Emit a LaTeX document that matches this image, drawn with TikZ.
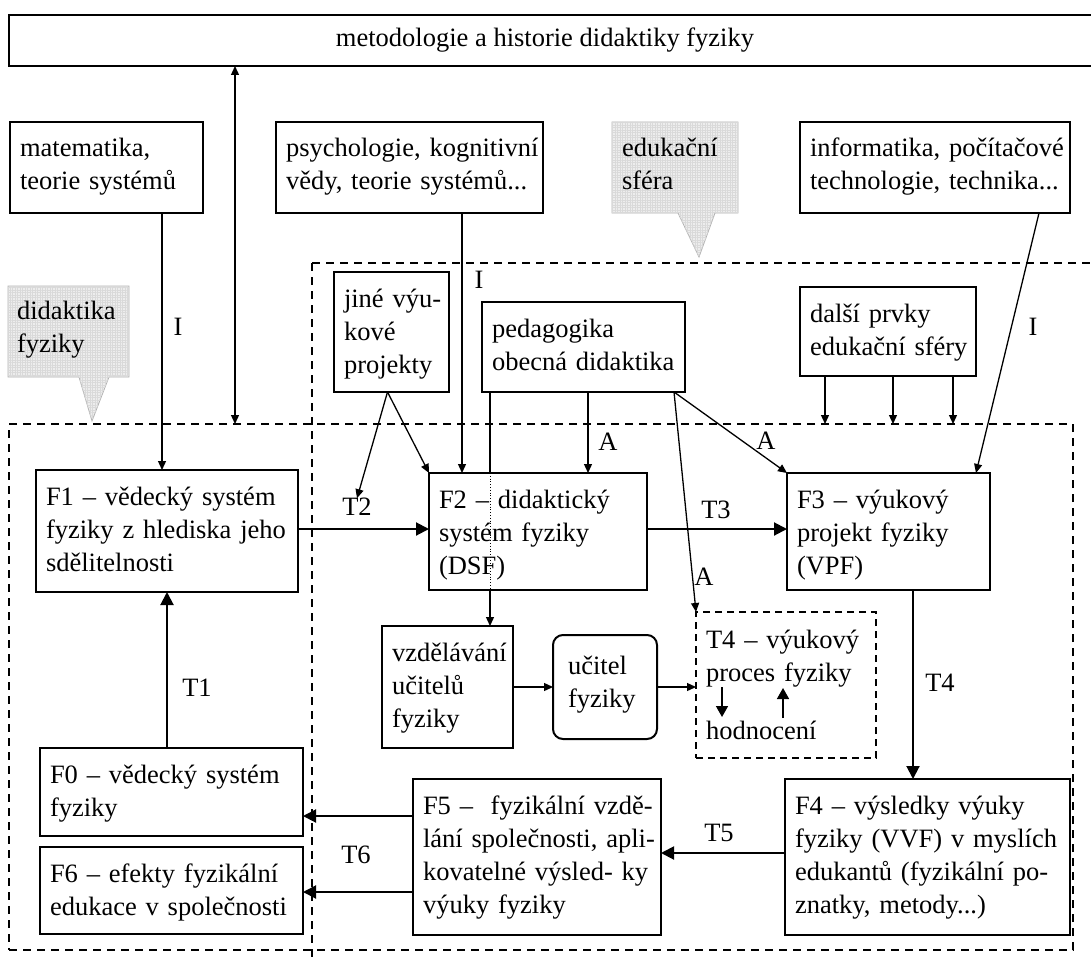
\documentclass[tikz,border=0pt]{standalone}
\usepackage{fontspec}
\setmainfont{Liberation Serif}
\usetikzlibrary{arrows.meta,patterns.meta,calc}

% framed box with top-left aligned text: [style]{name}{x1}{y1}{x2}{y2}{text}
\newcommand\fbx[7][frame]{%
  \node[#1, anchor=north west, minimum width={#5-#3}, minimum height={#6-#4}] (#2) at (#3,#4) {};
  \node[txt] (#2-t) at (#3+10,#4+35) {#7};}

\begin{document}
\begin{tikzpicture}[x=1pt,y=-1pt,
  every node/.style={font=\fontsize{26.5}{33}\selectfont, inner sep=0pt, outer sep=0pt},
  frame/.style={draw, line width=2pt, rectangle},
  txt/.style={text width=400pt, align=left, anchor=base west},
  lab/.style={anchor=center},
  region/.style={draw, line width=2pt, dash pattern=on 8pt off 6pt},
  thinarr/.style={line width=1.3pt, -{Triangle[length=9pt,width=8pt]}},
  thickarr/.style={line width=2pt, -{Triangle[length=13pt,width=13pt]}},
  midarr/.style={line width=1.6pt, -{Triangle[length=11pt,width=12pt]}},
  callout/.style={draw=gray!60, line width=0.8pt, fill=gray!14,
    postaction={pattern={Hatch[angle=0,distance=2.5pt,line width=0.3pt]}, pattern color=gray!30}}
]
\useasboundingbox (0,0) rectangle (1091,960);

% dashed regions
\node[region, anchor=north west, minimum width=1064pt, minimum height=526pt] (did) at (9,424) {};
\coordinate (edu) at (312,263);
\draw[region] (edu) -- +(800,0);
\draw[region] (edu) -- +(0,720);

% top band
\node[draw, line width=2.5pt, anchor=north west, minimum width=1100pt, minimum height=51pt] (meth) at (9,15) {};
\node (meth-t) at (545,40) {metodologie a historie didaktiky fyziky};

% neighbouring sciences
\fbx{mat}{10}{122}{203}{213}{matematika,\\teorie systémů}
\fbx{psy}{276}{122}{543}{213}{psychologie, kognitivní\\vědy, teorie systémů...}
\fbx{inf}{800}{122}{1070}{213}{informatika, počítačové\\technologie, technika...}

% callouts
\path[callout] (8,286) -- (129,286) -- (129,377) -- (109,377) -- (92,421) -- (79,377) -- (8,377) -- cycle;
\node[txt] (didlab) at (17,319) {didaktika\\fyziky};
\path[callout] (612,122) -- (738,122) -- (738,213) -- (715,213) -- (699,257) -- (678,213) -- (612,213) -- cycle;
\node[txt] (edulab) at (622,157) {edukační\\sféra};

% educational sphere
\fbx{jin}{334}{272}{449}{392}{jiné výu-\\kové\\projekty}
\fbx{ped}{482}{302}{685}{392}{pedagogika\\obecná didaktika}
\fbx{dal}{800}{287}{976}{376}{další prvky\\edukační sféry}

% physics didactics
\fbx{f1}{36}{470}{298}{592}{F1 – vědecký systém\\fyziky z hlediska jeho\\sdělitelnosti}
\fbx{f2}{429}{473}{647}{590}{F2 – didaktický\\systém fyziky\\(DSF)}
\fbx{f3}{787}{473}{990}{590}{F3 – výukový\\projekt fyziky\\(VPF)}
\fbx{vzd}{382}{626}{513}{748}{vzdělávání\\učitelů\\fyziky}
\node[frame, rounded corners=10pt, anchor=north west, minimum width=104pt, minimum height=104pt] (uci) at (553,635) {};
\node[txt] (uci-t) at (568,674) {učitel\\fyziky};
\node[region, dash pattern=on 7pt off 5pt, anchor=north west, minimum width=180pt, minimum height=146pt] (t4box) at (696,612) {};
\node[txt] (t4-t) at (706,648) {T4 – výukový\\proces fyziky};
\node[txt] (hod) at (706,739) {hodnocení};
\fbx{f0}{40}{748}{303}{836}{F0 – vědecký systém\\fyziky}
\fbx{f6}{40}{847}{303}{934}{F6 – efekty fyzikální\\edukace v společnosti}
\fbx{f5}{413}{779}{661}{935}{F5 –~ fyzikální vzdě-\\lání společnosti, apli-\\kovatelné výsled- ky\\výuky fyziky}
\fbx{f4}{785}{779}{1070}{935}{F4 – výsledky výuky\\fyziky (VVF) v myslích\\edukantů (fyzikální po-\\znatky, metody...)}

% column and row helpers
\coordinate (xm) at (162,0);
\coordinate (xd) at (235,0);
\coordinate (xp) at (462,0);
\coordinate (xv) at (490,0);
\coordinate (xa) at (588,0);
\coordinate (xe1) at (825,0);
\coordinate (xe2) at (893,0);
\coordinate (xe3) at (953,0);
\coordinate (x1) at (167,0);
\coordinate (x4) at (913,0);
\coordinate (yt) at (0,529);
\coordinate (yu) at (0,687);
\coordinate (y5) at (0,853);
\coordinate (y60) at (0,816);
\coordinate (y66) at (0,892);

% influences (I)
\draw[line width=1.3pt, {Triangle[length=9pt,width=8pt]}-{Triangle[length=9pt,width=8pt]}] (meth.south -| xd) -- (did.north -| xd);
\draw[thinarr] (mat.south -| xm) -- (f1.north -| xm);
\node[lab] (li1) at (178,327) {I};
\draw[thinarr] (psy.south -| xp) -- (f2.north -| xp);
\node[lab] (li2) at (479,280) {I};
\draw[thinarr] ([xshift=-31pt]inf.south east) -- ([xshift=-14pt]f3.north east);
\node[lab] (li3) at (1033,327) {I};

% labels of transformations
\node[lab] (t1) at (197,688) {T1};
\node[lab] (t2) at (357,507) {T2};
\node[lab] (t3) at (716,510) {T3};
\node[lab] (t4) at (940,683) {T4};
\node[lab] (t5) at (719,833) {T5};
\node[lab] (t6) at (356,855) {T6};

% other teaching projects
\draw[thinarr] ([xshift=-4pt]jin.south) -- (t2.north);
\draw[thinarr] ([xshift=-4pt]jin.south) -- (f2.north west);

% applications (A)
\draw[line width=1.3pt] (ped.south -| xv) -- (f2.north -| xv);
\draw[line width=0.8pt, dotted] (f2.north -| xv) -- (f2.south -| xv);
\draw[thinarr] (f2.south -| xv) -- (vzd.north -| xv);
\draw[thinarr] (ped.south -| xa) -- (f2.north -| xa);
\node[lab] (la1) at (608,442) {A};
\draw[thinarr] ([xshift=-11pt]ped.south east) -- (f3.north west);
\node[lab] (la2) at (766,441) {A};
\draw[thinarr] ([xshift=-11pt]ped.south east) -- (t4box.north west);
\node[lab] (la3) at (704,577) {A};

% further elements of the educational sphere
\draw[thinarr] (dal.south -| xe1) -- (did.north -| xe1);
\draw[thinarr] (dal.south -| xe2) -- (did.north -| xe2);
\draw[thinarr] (dal.south -| xe3) -- (did.north -| xe3);

% teacher path
\draw[thinarr] (vzd.east |- yu) -- (uci.west |- yu);
\draw[thinarr] (uci.east |- yu) -- (t4box.west |- yu);

% evaluation loop
\coordinate (hd-a) at (722,687);
\coordinate (hd-b) at (722,717);
\coordinate (hu-a) at (783,718);
\coordinate (hu-b) at (783,688);
\draw[midarr] (hd-a) -- (hd-b);
\draw[midarr] (hu-a) -- (hu-b);

% transformations
\draw[thickarr] (f0.north -| x1) -- (f1.south -| x1);
\draw[thickarr] (f1.east |- yt) -- (f2.west |- yt);
\draw[thickarr] (f2.east |- yt) -- (f3.west |- yt);
\draw[thickarr] (f3.south -| x4) -- (f4.north -| x4);
\draw[thickarr] (f4.west |- y5) -- (f5.east |- y5);
\draw[thickarr] (f5.west |- y60) -- (f0.east |- y60);
\draw[thickarr] (f5.west |- y66) -- (f6.east |- y66);
\end{tikzpicture}
\end{document}
